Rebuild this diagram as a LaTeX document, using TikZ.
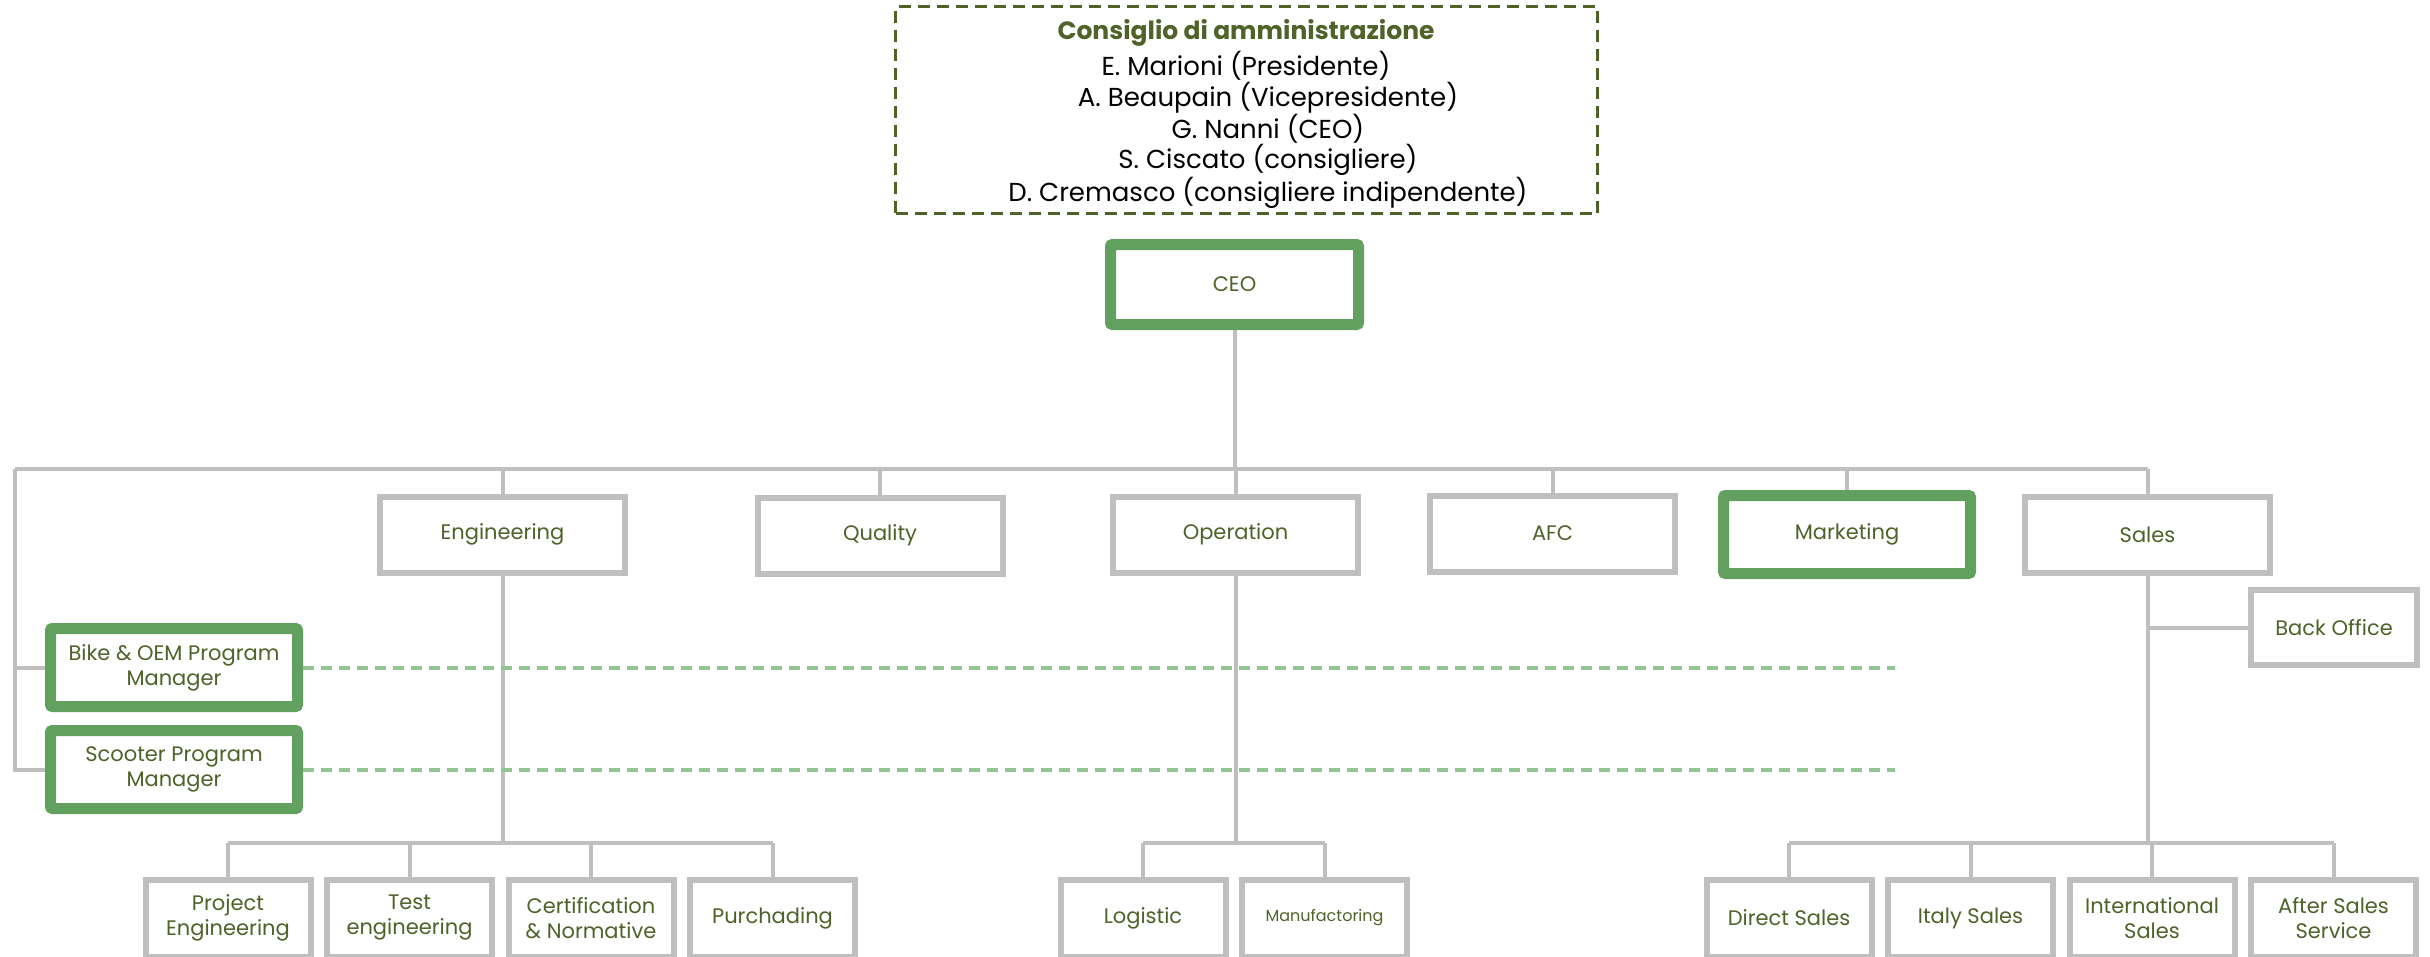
\documentclass[tikz,border=0pt]{standalone}
\usepackage{fontspec}
\setmainfont{Poppins}
\usepackage{tikz}
\usetikzlibrary{positioning}

\definecolor{textgreen}{RGB}{79,98,40}
\definecolor{leadgreen}{RGB}{98,160,96}
\definecolor{linkgreen}{RGB}{147,196,146}
\definecolor{linegray}{RGB}{191,191,191}

\begin{document}
\begin{tikzpicture}[x=1pt,y=-1pt,node distance=181.5pt,
    every node/.style={text=textgreen,font=\fontsize{21}{25}\selectfont,align=center,inner sep=0pt},
    unit/.style={draw=linegray,line width=6pt,minimum width=245pt,minimum height=76pt},
    lead/.style={draw=leadgreen,line width=11pt,rounded corners=2pt,minimum width=247pt,minimum height=78pt},
    sub/.style={draw=linegray,line width=6pt,minimum width=165pt,minimum height=77pt},
    conn/.style={draw=linegray,line width=4pt},
    link/.style={draw=linkgreen,line width=4pt,dash pattern=on 11pt off 7pt}]
    \useasboundingbox (0,0) rectangle (2430,956);
    \fill[white] (0,0) rectangle (2430,956);
    % board
    \node[draw=textgreen,line width=2.5pt,dash pattern=on 12pt off 7pt,minimum width=702pt,minimum height=207pt] (board) at (1246.5,110) {};
    \node[text=black,font=\fontsize{26}{30.5}\selectfont] (members) at (1246,114)
         {{\fontsize{25}{30}\selectfont\bfseries\color{textgreen}Consiglio di amministrazione}\\[4pt]
          E. Marioni (Presidente)\\
          \hspace*{44pt}A. Beaupain (Vicepresidente)\\
          \hspace*{44pt}G. Nanni (CEO)\\
          \hspace*{44pt}S. Ciscato (consigliere)\\
          \hspace*{44pt}D. Cremasco (consigliere indipendente)};
    % first line
    \node[lead,minimum width=248pt,minimum height=80pt] (ceo)   at (1234.5,284.5) {CEO};
    \node[unit]                                  (eng)   at (502.5,534.5)  {Engineering};
    \node[unit]                                  (qual)  at (880,535.5)    {Quality};
    \node[unit]                                  (oper)  at (1235.5,534.5) {Operation};
    \node[unit]                                  (afc)   at (1552.5,533.5) {AFC};
    \node[lead]                                  (mkt)   at (1847,534.5)   {Marketing};
    \node[unit]                                  (sales) at (2147.5,535)   {Sales};
    \node[unit,minimum width=166pt,minimum height=75pt] (bo) at (2334,627.5) {Back Office};
    \node[lead]                                  (bike)  at (174,667.5)    {Bike \& OEM Program\\Manager};
    \node[lead]                                  (scoot) at (174,769.5)    {Scooter Program\\Manager};
    % second line
    \node[sub]                                   (pe)    at (228,918)      {Project\\Engineering};
    \node[sub]                                   (te)    [right of=pe]     {Test\\engineering};
    \node[sub]                                   (cn)    [right of=te]     {Certification\\\& Normative};
    \node[sub]                                   (pu)    [right of=cn]     {Purchading};
    \node[sub]                                   (lo)    at (1143,918)     {Logistic};
    \node[sub,font=\fontsize{16}{20}\selectfont] (mf)    [right of=lo]     {Manufactoring};
    \node[sub]                                   (ds)    at (1789,918)     {Direct Sales};
    \node[sub]                                   (is)    [right of=ds]     {Italy Sales};
    \node[sub]                                   (ins)   [right of=is]     {International\\Sales};
    \node[sub]                                   (as)    [right of=ins]    {After Sales\\Service};
    \coordinate (busL)  at (15,469);
    \coordinate (low)   at (0,843);
    \coordinate (dashR) at (1895,0);
    % lines
    \draw[conn] (busL) -- (busL -| sales.north);
    \draw[conn] (ceo.south) -- (ceo.south |- busL);
    \foreach \n in {eng,qual,oper,afc,mkt,sales}
        \draw[conn] (\n.north) -- (\n.north |- busL);
    \draw[conn] (busL) |- (scoot.west);
    \draw[conn] (bike.west) -- (bike.west -| busL);
    \draw[conn] (bo.west) -- (bo.west -| sales.south);
    \draw[conn] (eng.south) -- (eng.south |- low);
    \draw[conn] (oper.south) -- (oper.south |- low);
    \draw[conn] (sales.south) -- (sales.south |- low);
    \draw[conn] (pe.north |- low) -- (pu.north |- low);
    \draw[conn] (lo.north |- low) -- (mf.north |- low);
    \draw[conn] (ds.north |- low) -- (as.north |- low);
    \foreach \n in {pe,te,cn,pu,lo,mf,ds,is,ins,as}
        \draw[conn] (\n.north) -- (\n.north |- low);
    \draw[link] (bike.east) -- (bike.east -| dashR);
    \draw[link] (scoot.east) -- (scoot.east -| dashR);
\end{tikzpicture}
\end{document}
